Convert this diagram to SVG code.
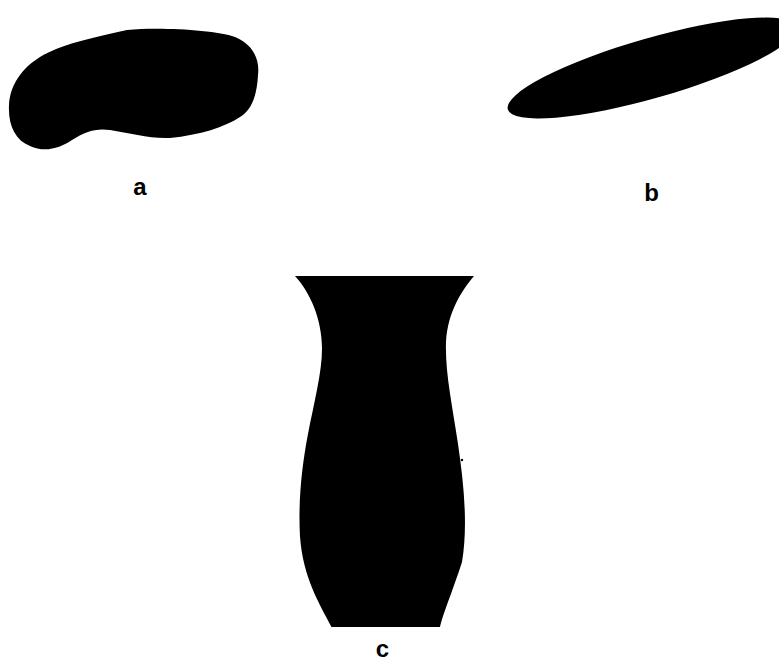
<svg xmlns="http://www.w3.org/2000/svg" width="779" height="662" viewBox="0 0 779 662">
<style>
.s{fill:#000;stroke:none}
.l{font-family:"Liberation Sans",Arial,sans-serif;font-weight:bold;font-size:24px;fill:#000;text-anchor:middle}
</style>
<rect width="779" height="662" fill="#fff"/>
<g id="shape-a">
<path class="s" d="M127,30 C160,27 215,30 235,37 C252,44 260,58 258,75 C257,95 252,110 240,117 C225,127 200,135 170,138 C150,139 130,133 110,130 C95,128 85,132 72,140 C60,148 45,153 30,146 C15,140 8,125 9,105 C10,85 22,68 40,57 C60,45 90,38 127,30 Z"/>
<text class="l" x="140" y="195">a</text>
</g>
<g id="shape-b">
<ellipse class="s" cx="652" cy="68" rx="150" ry="30" transform="rotate(-16 652 68)"/>
<text class="l" x="651.5" y="201">b</text>
</g>
<g id="shape-c">
<path class="s" d="M295,276 L474,276 C462,290.4 448,311 446,341.7 C445,372.5 452,403 458,444 C464,485 468,526 462,562 C452,593 443,613.6 440,627 L331.5,627 C319,603 303,577.6 300,536.6 C298,500.7 302,464.8 308,434 C314,403 322,372.5 322,348.8 C322,319 310,292.4 295,276 Z"/>
<circle class="s" cx="462" cy="460" r="1.2"/>
<text class="l" x="382.5" y="657">c</text>
</g>
</svg>
